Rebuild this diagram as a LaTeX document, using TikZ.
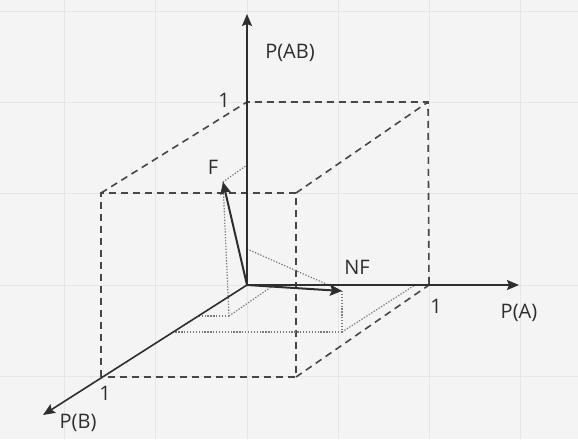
\documentclass[tikz,border=0pt]{standalone}
\usepackage{fontspec}
\setmainfont{Open Sans}
\usepackage{tikz}
\usetikzlibrary{arrows.meta,positioning,calc}
\definecolor{paper}{HTML}{F4F4F4}
\definecolor{gridgrey}{HTML}{E6E6E6}
\definecolor{ink}{HTML}{2E2E2E}
\definecolor{inkmid}{HTML}{474747}
\definecolor{dotgrey}{HTML}{7A7A7A}

\begin{document}
\begin{tikzpicture}[
  x=1pt, y=-1pt,
  font=\fontsize{20}{22}\selectfont,
  gridline/.style={draw=gridgrey, line width=1pt},
  axis/.style={-{Stealth[length=12pt,width=10pt,inset=2pt]}, draw=ink, line width=1.6pt},
  vec/.style={-{Stealth[length=12pt,width=11pt,inset=2pt]}, draw=ink, line width=2pt},
  edge/.style={draw=inkmid, line width=1.6pt, dash pattern=on 7pt off 5pt},
  proj/.style={draw=dotgrey, line width=1.2pt, dash pattern=on 1.3pt off 1.6pt},
  lbl/.style={text=ink, inner sep=0pt}
]

\fill[paper] (0,0) rectangle (578,439);
\useasboundingbox (0,0) rectangle (578,439);

% background grid
\foreach \gx in {64.5,155.75,247,338.25,429.5,520.75}
  \draw[gridline] (\gx,0) -- (\gx,439);
\foreach \gy in {11.25,102.5,193.75,285,376.25}
  \draw[gridline] (0,\gy) -- (578,\gy);

% axes
\coordinate (O)    at (247,285);
\coordinate (aend) at (519,285);
\coordinate (zend) at (247,14);
\coordinate (bend) at (43,415);

% unit points and cube corners
\coordinate (a1)  at (429,285);
\coordinate (z1)  at (247,102);
\coordinate (b1)  at (101,377);
\coordinate (ftl) at (101,193);
\coordinate (ftr) at (296,193);
\coordinate (fbr) at (296,377);
\coordinate (btr) at (428,102);

% vector tips and their projections
\coordinate (ftip)  at (223,182);
\coordinate (fz)    at (247,165);
\coordinate (fab)   at (229,316);
\coordinate (fb)    at (199,316);
\coordinate (fa)    at (274,285);
\coordinate (nftip) at (342,291);
\coordinate (nfz)   at (247,249);
\coordinate (nfab)  at (342,332);
\coordinate (nfb)   at (175,332);
\coordinate (nfa)   at (415,285);

% unit cube
\draw[edge] (b1) -- (ftl) -- (ftr) -- (fbr) -- cycle;
\draw[edge] (ftl) -- (z1) -- (btr) -- (a1);
\draw[edge] (ftr) -- (btr);
\draw[edge] (fbr) -- (a1);

% projections
\draw[proj] (ftip) -- (fz);
\draw[proj] (ftip) -- (fab);
\draw[proj] (fab) -- (fb);
\draw[proj] (fab) -- (fa);
\draw[proj] (nfz) -- (nftip);
\draw[proj] (nftip) -- (nfab);
\draw[proj] (nfab) -- (nfb);
\draw[proj] (nfab) -- (nfa);

\draw[axis] (O) -- (aend);
\draw[axis] (O) -- (zend);
\draw[axis] (O) -- (bend);

\draw[vec] (O) -- (ftip);
\draw[vec] (O) -- (nftip);

% labels
\node[lbl] (lab)  at (290,53)  {P(AB)};
\node[lbl] (la)   at (519,313) {P(A)};
\node[lbl] (lb)   at (78,423)  {P(B)};
\node[lbl] (lz1)  at (224,100) {1};
\node[lbl] (la1)  at (436,306) {1};
\node[lbl] (lb1)  at (105,393) {1};
\node[lbl] (lf)   at (213,167) {F};
\node[lbl] (lnf)  at (357,267) {NF};

\end{tikzpicture}
\end{document}
